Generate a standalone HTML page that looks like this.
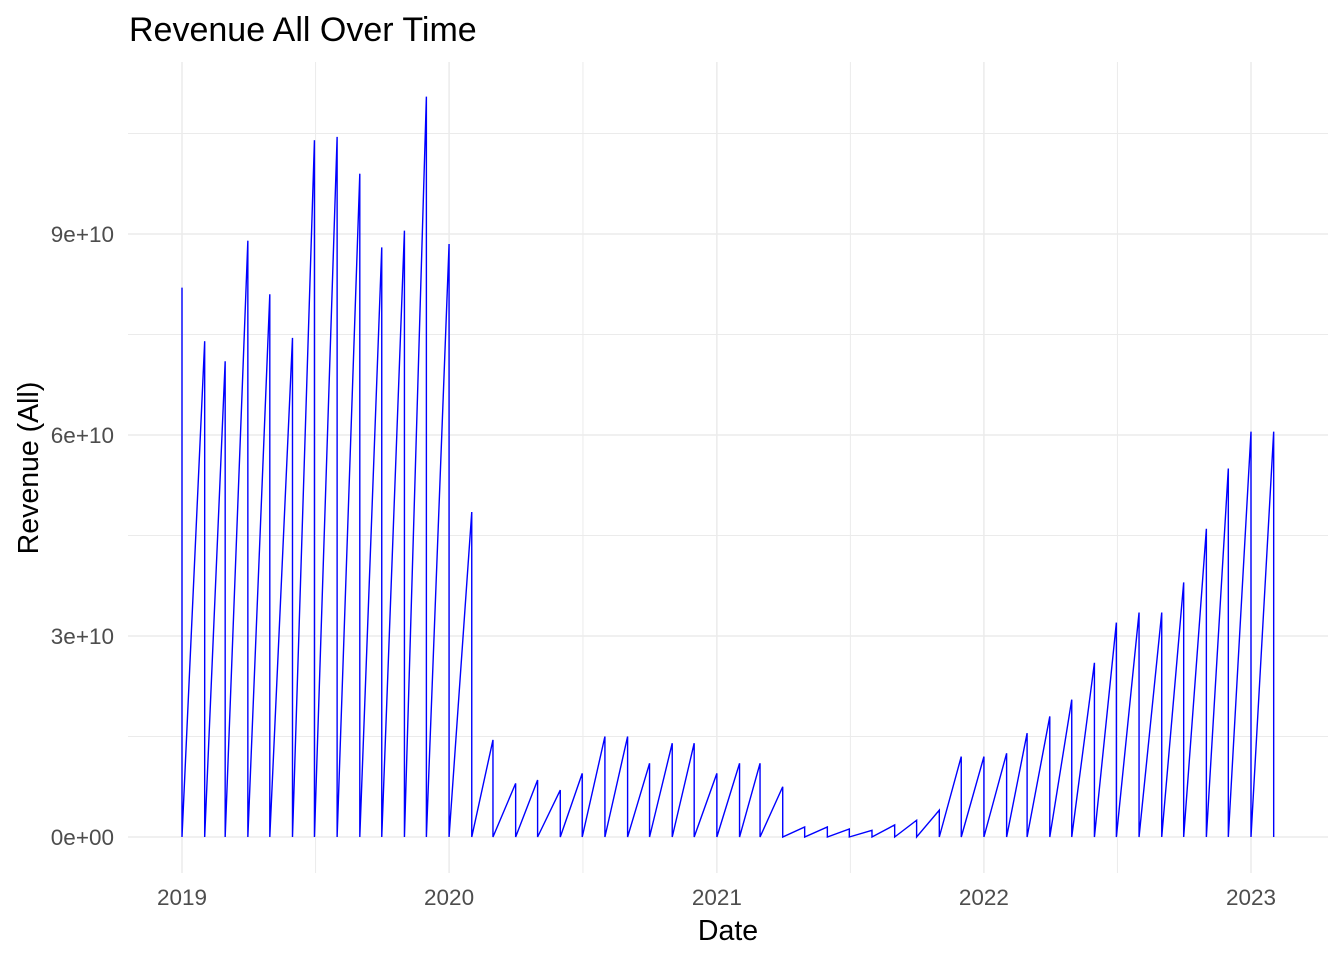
<!DOCTYPE html>
<html><head><meta charset="utf-8"><style>
body{margin:0;background:#fff;}
svg{display:block;font-family:"Liberation Sans",sans-serif;}
</style></head><body>
<svg id="chart" width="1344" height="960" viewBox="0 0 1344 960">
<rect width="1344" height="960" fill="#fff"/>
<g id="grid"></g>
<g id="axes"></g>
<path id="line" fill="none" stroke="#0000ff" stroke-width="1.4"/>
<text x="129" y="41" font-size="34" fill="#000">Revenue All Over Time</text>
<text x="728" y="940" font-size="28.5" text-anchor="middle" fill="#000">Date</text>
<text transform="translate(38,468) rotate(-90)" font-size="28.5" text-anchor="middle" fill="#000">Revenue (All)</text>
</svg>
<script>
const startYear = 2019;
const peaks = [8.2,7.4,7.1,8.9,8.1,7.45,10.4,10.45,9.9,8.8,9.05,11.05,
8.85,4.85,1.45,0.8,0.85,0.7,0.95,1.5,1.5,1.1,1.4,1.4,
0.95,1.1,1.1,0.75,0.15,0.15,0.12,0.1,0.18,0.25,0.4,1.2,
1.2,1.25,1.55,1.8,2.05,2.6,3.2,3.35,3.35,3.8,4.6,5.5,
6.05,6.05];
const yTicks = [0,3,6,9];
const yTickLabels = ["0e+00","3e+10","6e+10","9e+10"];
const xTicks = [2019,2020,2021,2022,2023];

const NS = 'http://www.w3.org/2000/svg';
const t0 = Date.UTC(2019,0,1), t1 = Date.UTC(2023,0,1);
function xs(t){ return 182 + (t - t0)/(t1 - t0)*(1251-182); }
function ys(v){ return 837 - v*67; }
const grid = document.getElementById('grid');
const axes = document.getElementById('axes');
function ln(x1,y1,x2,y2,w,name){
  const l=document.createElementNS(NS,'line');
  l.setAttribute('x1',x1);l.setAttribute('y1',y1);l.setAttribute('x2',x2);l.setAttribute('y2',y2);
  l.setAttribute('stroke','#ebebeb');l.setAttribute('stroke-width',w);
  
  
  grid.appendChild(l);
}
for(let i=0;i<yTicks.length;i++){ ln(128,ys(yTicks[i]+1.5),1328,ys(yTicks[i]+1.5),1,'y-minor-gridline'); }
for(let i=0;i<xTicks.length-1;i++){ const xm=(xs(Date.UTC(xTicks[i],0,1))+xs(Date.UTC(xTicks[i+1],0,1)))/2; ln(xm,62,xm,873,1,'x-minor-gridline'); }
yTicks.forEach((v,i)=>{
  ln(128,ys(v),1328,ys(v),1.5,'y-major-gridline');
  const t=document.createElementNS(NS,'text');
  t.setAttribute('x',114);t.setAttribute('y',ys(v)+8);t.setAttribute('text-anchor','end');
  t.setAttribute('font-size','22.5');t.setAttribute('fill','#4d4d4d');t.textContent=yTickLabels[i];
  
  
  axes.appendChild(t);
});
xTicks.forEach(y=>{
  const x=xs(Date.UTC(y,0,1));
  ln(x,62,x,873,1.5,'x-major-gridline');
  const t=document.createElementNS(NS,'text');
  t.setAttribute('x',x);t.setAttribute('y',905);t.setAttribute('text-anchor','middle');
  t.setAttribute('font-size','22.5');t.setAttribute('fill','#4d4d4d');t.textContent=y;
  
  
  axes.appendChild(t);
});
let d='';
peaks.forEach((p,i)=>{
  const t=Date.UTC(startYear+Math.floor(i/12), i%12, 1);
  const x=xs(t).toFixed(2);
  d += (i===0?'M':'L')+x+','+ys(p).toFixed(2)+' L'+x+','+ys(0).toFixed(2)+' ';
});
document.getElementById('line').setAttribute('d',d);
</script>
</body></html>
